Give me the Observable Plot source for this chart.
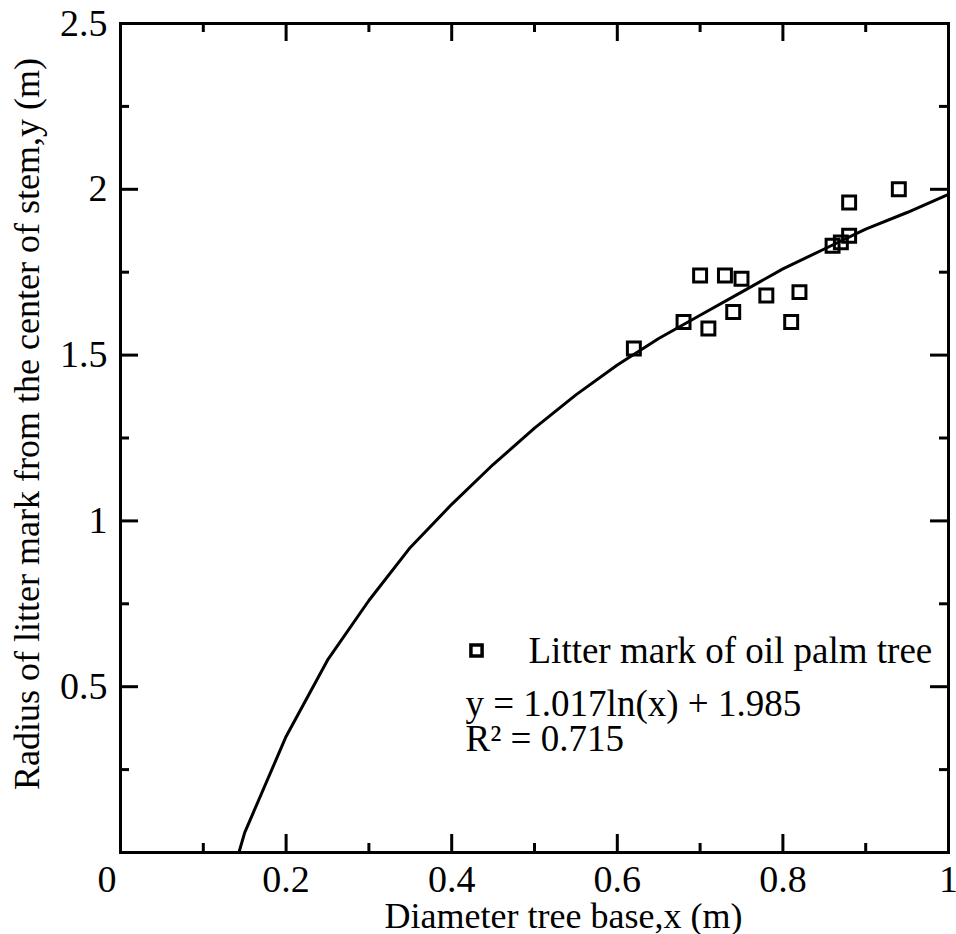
<!DOCTYPE html>
<html><head><meta charset="utf-8">
<script src="https://cdn.jsdelivr.net/npm/d3@7"></script>
<script src="https://cdn.jsdelivr.net/npm/@observablehq/plot@0.6"></script>
<style>body{margin:0;background:#fff} #chart svg{display:block}</style>
</head><body><div id="chart"></div>
<script>
// Observed litter marks (diameter of tree base x, radius y)
const diameterX = [0.62, 0.68, 0.70, 0.71, 0.73, 0.74, 0.75, 0.78, 0.81, 0.82, 0.86, 0.87, 0.88, 0.88, 0.94];
const radiusY   = [1.52, 1.60, 1.74, 1.58, 1.74, 1.63, 1.73, 1.68, 1.60, 1.69, 1.83, 1.84, 1.86, 1.96, 2.00];

// Fitted curve as drawn (vertices)
const fitX = [0.143, 0.15, 0.20, 0.25, 0.30, 0.35, 0.40, 0.45, 0.50, 0.55, 0.60, 0.65, 0.70, 0.75, 0.80, 0.85, 0.90, 0.95, 1.00];
const fitY = [0.00, 0.06, 0.35, 0.58, 0.76, 0.92, 1.05, 1.17, 1.28, 1.38, 1.47, 1.55, 1.62, 1.69, 1.76, 1.82, 1.88, 1.93, 1.985];

const xTickLabels = [0.2, 0.4, 0.6, 0.8, 1];
const xMajorTicks = [0.2, 0.4, 0.6, 0.8];
const xMinorTicks = [0.1, 0.3, 0.5, 0.7, 0.9];
const yTickLabels = [0.5, 1, 1.5, 2, 2.5];
const yMajorTicks = [0.5, 1, 1.5, 2];
const yMinorTicks = [0.25, 0.75, 1.25, 1.75, 2.25];

const xTitle = "Diameter tree base,x (m)";
const yTitle = "Radius of litter mark from the center of stem,y (m)";
const legendLabel = "Litter mark of oil palm tree";
const equationText = "y = 1.017ln(x) + 1.985";
const r2Text = "R\u00B2 = 0.715";
const originLabel = "0";

const points = diameterX.map((x, i) => ({x, y: radiusY[i]}));
const fit = fitX.map((x, i) => ({x, y: fitY[i]}));

const W = 956, H = 934, mL = 120, mR = 8, mT = 23, mB = 82;
const iw = W - mL - mR, ih = H - mT - mB;
const font = "'Liberation Serif', 'Times New Roman', Times, serif";
const major = 18, minor = 9, tw = 3;

const chart = Plot.plot({
  width: W, height: H,
  marginLeft: mL, marginRight: mR, marginTop: mT, marginBottom: mB,
  style: {fontFamily: font, color: "black", background: "white", overflow: "visible"},
  x: {domain: [0, 1]},
  y: {domain: [0, 2.5]},
  marks: [
    // inward ticks on all four sides
    Plot.tickX(xMajorTicks, {x: d => d, insetTop: ih - major, strokeWidth: tw, stroke: "black"}),
    Plot.tickX(xMajorTicks, {x: d => d, insetBottom: ih - major, strokeWidth: tw, stroke: "black"}),
    Plot.tickX(xMinorTicks, {x: d => d, insetTop: ih - minor, strokeWidth: tw, stroke: "black"}),
    Plot.tickX(xMinorTicks, {x: d => d, insetBottom: ih - minor, strokeWidth: tw, stroke: "black"}),
    Plot.tickY(yMajorTicks, {y: d => d, insetRight: iw - major, strokeWidth: tw, stroke: "black"}),
    Plot.tickY(yMajorTicks, {y: d => d, insetLeft: iw - major, strokeWidth: tw, stroke: "black"}),
    Plot.tickY(yMinorTicks, {y: d => d, insetRight: iw - minor, strokeWidth: tw, stroke: "black"}),
    Plot.tickY(yMinorTicks, {y: d => d, insetLeft: iw - minor, strokeWidth: tw, stroke: "black"}),
    Plot.frame({stroke: "black", strokeWidth: 3}),
    // tick labels
    Plot.axisX(xTickLabels, {tickSize: 0, tickPadding: 13, fontSize: 38, label: null, tickFormat: d => String(d), fill: "black"}),
    Plot.axisY(yTickLabels, {tickSize: 0, tickPadding: 13, fontSize: 38, label: null, tickFormat: d => String(d), fill: "black"}),
    Plot.text([originLabel], {frameAnchor: "bottom-left", dx: -23, dy: 13, lineAnchor: "top", fontSize: 38, fill: "black"}),
    // axis titles
    Plot.text([xTitle], {frameAnchor: "bottom", dx: 29, dy: 75, textAnchor: "middle", lineAnchor: "bottom", fontSize: 36, fill: "black"}),
    Plot.text([yTitle], {frameAnchor: "left", dx: -82, dy: -14, rotate: -90, textAnchor: "middle", lineAnchor: "bottom", fontSize: 36, fill: "black"}),
    // data
    Plot.line(fit, {x: "x", y: "y", stroke: "black", strokeWidth: 3, curve: "linear"}),
    Plot.dot(points, {x: "x", y: "y", symbol: "square", r: 7.3, stroke: "black", strokeWidth: 3, fill: "none"}),
    // legend
    Plot.dot([legendLabel], {frameAnchor: "bottom-left", dx: 356, dy: -202, symbol: "square", r: 6.3, stroke: "black", strokeWidth: 3.5, fill: "none"}),
    Plot.text([legendLabel], {frameAnchor: "bottom-left", dx: 408, dy: -190, textAnchor: "start", lineAnchor: "bottom", fontSize: 37, fill: "black"}),
    Plot.text([equationText], {frameAnchor: "bottom-left", dx: 345, dy: -137, textAnchor: "start", lineAnchor: "bottom", fontSize: 37, fill: "black"}),
    Plot.text([r2Text], {frameAnchor: "bottom-left", dx: 345, dy: -102, textAnchor: "start", lineAnchor: "bottom", fontSize: 37, fill: "black"})
  ]
});
document.getElementById("chart").appendChild(chart);
</script>
</body></html>
